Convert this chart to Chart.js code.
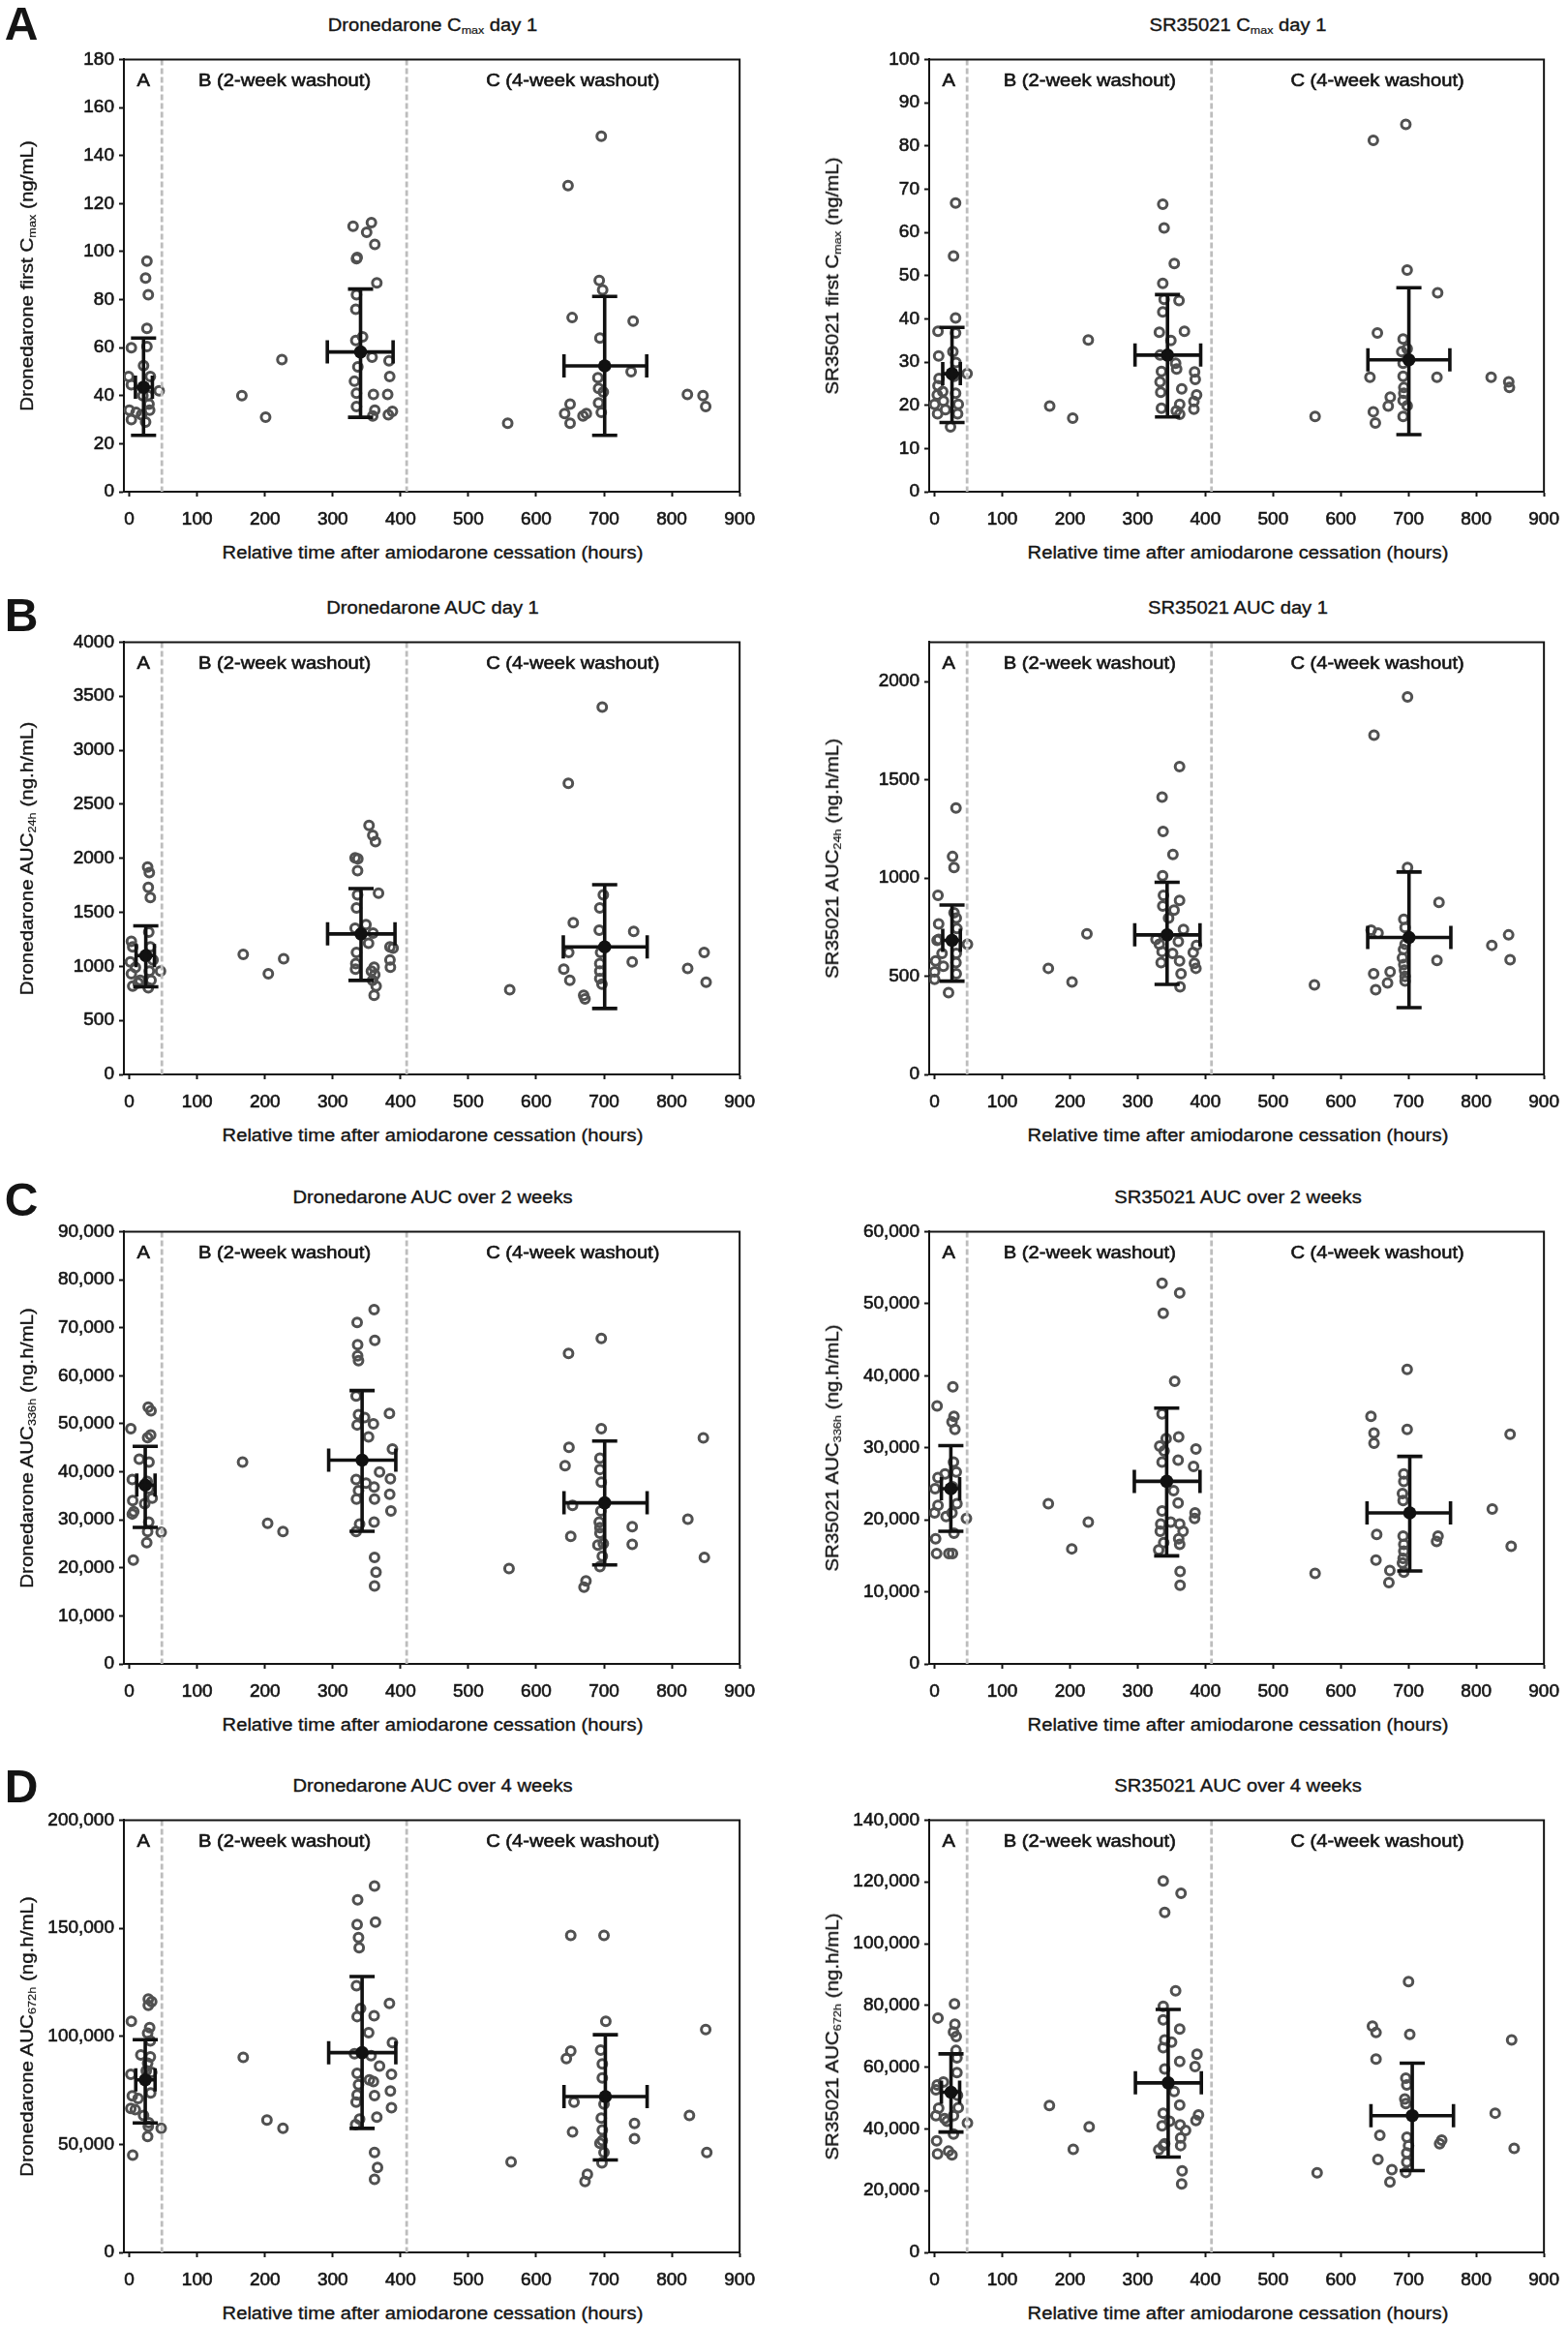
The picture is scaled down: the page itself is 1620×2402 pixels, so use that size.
<!DOCTYPE html>
<html>
<head>
<meta charset="utf-8">
<script src="https://cdn.jsdelivr.net/npm/chart.js@4.4.1/dist/chart.umd.min.js"></script>
<style>
html,body{margin:0;padding:0;background:#fff;}
#page{position:relative;width:1620px;height:2402px;overflow:hidden;background:#fff;font-family:"Liberation Sans",Arial,Helvetica,sans-serif;color:#141414;}
.t{position:absolute;white-space:nowrap;line-height:1;font-size:18px;transform:translate(-50%,-50%) scaleX(1.12);-webkit-text-stroke:0.35px #141414;}
.yt{position:absolute;white-space:nowrap;line-height:1;font-size:18px;transform:translate(-50%,-50%) rotate(-90deg) scaleX(1.14);-webkit-text-stroke:0.35px #141414;}
.letter{position:absolute;font-weight:bold;font-size:48px;line-height:1;transform:translate(-50%,-50%);}
sub{font-size:0.62em;vertical-align:-0.28em;line-height:0;-webkit-text-stroke:0.2px #141414;}
.cw{position:absolute;}
.cw canvas{display:block;}
</style>
</head>
<body>
<div id="page"></div>
<script>
// ---------------- DATA ----------------
const xTicks = [0,100,200,300,400,500,600,700,800,900];
const boundaries = [48, 409];
const regionLabels = ['A', 'B (2-week washout)', 'C (4-week washout)'];
const regionCenters = [21, 229, 654];

const yTicksCmaxDron = [0,20,40,60,80,100,120,140,160,180];
const yTicksCmaxSR = [0,10,20,30,40,50,60,70,80,90,100];
const yTicksAucD1Dron = [0,500,1000,1500,2000,2500,3000,3500,4000];
const yTicksAucD1SR = [0,500,1000,1500,2000];
const yTicksAuc2wDron = [0,10000,20000,30000,40000,50000,60000,70000,80000,90000];
const yTicksAuc2wSR = [0,10000,20000,30000,40000,50000,60000];
const yTicksAuc4wDron = [0,50000,100000,150000,200000];
const yTicksAuc4wSR = [0,20000,40000,60000,80000,100000,120000,140000];

// individual subjects: [hours, value]
const cmaxDron = [
 [26,96],[24,89],[28,82],[26,68],[3,60],[26,60.5],[21,52.5],[-1,48],[3,44.5],[31,48],[44,42],[29,36.5],[0,34],[10,33],[30,34],[3,30],[18,32],[24,29],[20,40],[28,40],
 [166,40],[201,31],[225,55],
 [330,110.5],[357,112],[350,108],[362,103],[335,97],[336,97.5],[365,87],[335,82],[334,76],[334,63],[344,64.5],[358,56],[383,54.5],[337,52],[384,48],[332,46],[335,41],[360,40.5],[381,40.5],[335,35.5],[362,34],[359,31.5],[388,33.5],[382,32],
 [558,28.5],[647,127.5],[696,148],[693,88],[698,84],[653,72.5],[743,71],[694,64],[740,50],[691,47.5],[692,43],[699,41.5],[650,36.5],[692,37],[642,32.5],[650,28.5],[669,31.5],[674,32.5],[696,33],
 [823,40.5],[846,40],[850,35.5]
];
const cmaxSR = [
 [31,66.8],[28,54.5],[31,40.2],[5,37.1],[31,36.7],[27,32.4],[6,31.4],[31.5,29.9],[48,27.3],[6.6,26.2],[29,26.7],[5,24.5],[31,22.8],[4,22.4],[12,23.2],[0,20.2],[13,21],[35,20.2],[4.4,18],[34,18],[23.5,15],[16,19],
 [170,19.8],[204,17],[227,35.1],
 [337,66.5],[339,61],[354,52.8],[337,48.2],[361,44.2],[339,44.5],[337,41.6],[332,36.9],[369,37.1],[349,35],[333,31.6],[356,29.7],[335,27.8],[357.5,28.4],[333,25.4],[384,27.7],[385,26],[365,23.8],[334,23],[387,22.4],[362,20.2],[383,20.9],[335,19.3],[357,18.7],[362,17.9],[383,19.1],
 [562,17.4],[648,81.3],[696,85],[698,51.3],[743,46],[654,36.7],[692,35.3],[690,32.4],[698,33.1],[692,29.7],[643,26.5],[742,26.5],[692,26.7],[693,24.1],[693,22.8],[673,21.9],[692,21.1],[670,19.8],[698,19.9],[648,18.5],[651,15.9],[692,17.4],
 [822,26.5],[848,25.4],[849,24.1]
];
const aucD1Dron = [
 [27,1919],[29.5,1868],[28,1730],[31,1637],[28.7,1317],[3,1231],[5,1180],[31,1180],[24,1094],[35,1059],[1.5,1042],[9,990],[29.5,956],[46,956],[3,932],[16,870],[32,870],[5,818],[28,801],[13,846],
 [168,1111],[205,932],[227.6,1070],
 [353.5,2304],[359,2212],[363,2153],[333,2005],[337,1995],[336.6,1885],[367.5,1678],[336.6,1661],[335,1541],[349,1386],[333,1352],[359.4,1307],[352.8,1214],[335,1128],[384.4,1180],[389,1169],[384.4,1059],[334,1025],[361,991],[333.6,973],[385,991],[357,956],[362,922],[358.7,870],[364,818],[361,733],
 [561,784],[647.4,2693],[697.4,3398],[699,1661],[693.8,1541],[654.7,1403],[743.8,1324],[693,1334],[648,1128],[695,1128],[741.6,1042],[693.8,1025],[640.7,973],[693.8,956],[649.6,870],[693.8,887],[697,836],[670,733],[672,698],
 [823.4,980],[847.7,1128],[850.6,853]
];
const aucD1SR = [
 [31.6,1356],[26.5,1109],[28.7,1053],[5,911],[28.7,823],[32,795],[6,766],[6,687],[33,742],[48.5,663],[11,616],[32,616],[1.5,578],[31.6,569],[13,550],[0,522],[32,512],[0,484],[20.6,416],[3.7,682],
 [168,540],[203,471],[225,716],
 [361.8,1567],[336,1411],[337.5,1237],[352,1119],[336.8,1011],[338,911],[361.8,885],[353.7,836],[337,857],[345.6,795],[367.6,738],[327,687],[332,663],[360,676],[386.8,657],[336,625],[382,621],[351.5,616],[334.6,569],[361.8,578],[383.8,565],[386,540],[364,512],[362.5,446],
 [561,456],[649,1727],[698.5,1921],[698.5,1053],[745,876],[693,789],[644.8,734],[655,719],[694.9,748],[694.9,663],[692.6,635],[691,593],[742,580],[693,559],[694,531],[672.8,522],[648.5,512],[694.9,499],[669,465],[694.9,475],[651.5,431],
 [823,657],[847.8,710],[850,584]
];
const auc2wDron = [
 [27.9,53460],[32,52690],[2.2,48980],[31.5,47660],[27,47120],[14.7,42640],[29,42020],[4.4,38390],[26.4,38010],[28.6,36460],[33.7,34530],[5,33990],[22.7,33370],[6.6,31670],[28.6,29510],[27,27580],[47,27420],[25.7,25260],[5.9,21630],[4.4,31210],
 [167,42020],[204,29280],[226.6,27580],
 [361,73770],[336,71070],[362,67360],[336.7,66440],[336.7,64120],[338,63110],[334.5,55770],[383.6,52140],[338,51910],[347,51290],[336,49750],[360,49980],[352.8,47280],[388,44730],[369,39940],[334.5,38390],[385,38550],[349,37620],[361,36850],[338,36080],[384,35300],[335,34300],[361.6,34300],[385.8,31830],[339.6,29120],[361,29510],[334.5,27580],[361.6,22170],[363.8,19080],[361.6,16220],
 [560,19850],[647.7,64660],[696,67750],[696,48980],[648.4,45110],[642.6,41250],[694,42800],[694,40480],[696,37850],[653.6,32990],[695.4,31830],[693,29510],[741.6,28580],[694,28350],[651,26570],[694,27190],[741.6,24880],[691,24720],[699,25030],[697.5,22400],[694,20240],[673.4,17300],[670.5,15990],
 [823.7,30130],[846.5,47050],[848,22170]
];
const auc2wSR = [
 [27,38470],[3.7,35790],[28.6,34350],[25.7,33580],[30,32550],[5,25850],[27.9,28020],[32,26630],[15.4,26370],[0.7,24310],[26.4,24570],[33,22250],[5,21990],[0,20960],[25.7,20960],[17,20450],[47,20190],[28.6,18130],[1.5,17360],[3,15300],[21,15300],[26.4,15300],
 [168,22250],[202.6,15970],[227,19670],
 [336,52840],[362,51500],[337.7,48670],[354.6,39240],[336,34710],[342,31260],[360.5,31520],[332.5,30230],[386,29820],[339,29560],[336,28020],[359.7,28270],[382.5,27400],[353,24050],[359.7,22350],[336,21220],[384.7,20960],[384,20190],[334,19420],[348.7,19670],[362,19420],[333.3,18390],[367,18390],[360.5,17360],[338.4,16840],[362,16580],[331,15810],[362.6,12820],[362.6,10920],
 [562,12570],[698,40890],[644.5,34350],[649,32030],[649,30640],[698,32550],[693,26370],[693,25340],[691,23640],[692,22660],[653,17970],[692,17720],[743.6,17720],[741.4,17000],[693,16580],[693,15660],[692,14630],[651.9,14420],[691,14010],[672.4,12980],[693,12720],[671,11280],
 [823.7,21480],[850,31880],[851.6,16330]
];
const auc4wDron = [
 [28,117200],[33,116000],[28,114300],[3,106900],[30,104000],[27,101400],[31,97900],[17,91400],[31,90500],[27,87600],[2.2,82400],[33,83300],[25,84100],[4.4,72400],[31.5,73800],[13,71200],[8.8,66000],[2.2,66600],[28.6,60000],[28,58300],[47,57400],[27,53600],[5,45000],[21,63400],
 [168,90200],[203,61200],[226.6,57400],
 [361.6,169500],[336.7,163100],[363,152800],[336,151700],[338,145700],[339,141000],[335,123400],[383.6,115200],[341,112900],[336,109100],[361,109500],[353,101700],[388,97100],[332,91900],[356.5,91000],[369,86200],[336,82800],[386.6,82400],[354,79800],[360,79000],[338,77600],[385,74700],[336,72900],[361.6,72600],[334.5,69500],[386.6,66900],[365,62600],[339.6,61700],[333.7,59100],[361.6,46200],[366,39300],[361.6,33800],
 [563,41900],[651,146700],[700,146700],[702.7,106900],[651,93100],[644.5,89700],[695,93600],[697.5,87200],[697.5,80700],[700,68600],[655.8,69500],[696,62100],[745,59700],[697.5,56600],[653.6,55700],[745,52600],[697.5,51700],[694,50500],[700,46200],[697,41400],[675.5,36200],[672,32800],
 [826,63400],[850,103100],[851.6,46200]
];
const auc4wSR = [
 [29.4,80500],[5,75900],[30,73900],[27.9,71400],[32,69900],[31.6,65400],[33,63000],[33,58200],[2,52700],[13,55200],[4,54200],[33.8,50900],[35,46900],[6,46700],[2,44300],[27.9,44300],[14.7,43300],[48.5,41900],[18.4,42500],[27.9,38300],[3,36100],[4.4,31900],[25.7,31600],[20.6,32800],
 [169.6,47600],[204.8,33400],[228.3,40700],
 [337.7,120300],[364,116300],[339.9,110100],[356,84700],[337.7,79700],[337.7,75300],[362,72300],[339.9,68800],[350,68100],[387.6,64200],[337.7,66300],[362,61800],[384.7,60200],[339.9,59400],[353.8,52100],[362,47700],[337.7,45100],[389.8,44500],[386,42700],[347,42500],[336,41000],[362.6,41300],[370.7,39500],[363.4,37100],[339.9,35200],[363.4,34600],[331,33200],[365.6,26400],[364.9,22200],[337.7,34600],
 [565,25800],[700,87700],[646.7,73300],[652,71200],[701.8,70600],[652,62600],[696,56400],[697.4,54200],[694.5,49700],[696,48200],[657.6,37900],[697.7,37300],[749,36400],[745.9,35200],[700,34600],[697.4,32200],[654.8,30100],[697.4,29200],[675.4,26800],[696,25900],[672.5,22800],
 [828,45100],[852.3,68800],[856,33700]
];

// group summaries: [meanHours, meanValue, hoursLow, hoursHigh, valueLow, valueHigh]
const cmaxDronMean = [[21,43.5,9,34,23.5,64],[341,58.2,292,389,31,84.4],[701,52.4,641,763,23.5,81.3]];
const cmaxSRMean = [[25.7,27.3,12,38,16,38],[344,31.6,296,393,17.3,45.6],[700.5,30.5,640,761,13.2,47.2]];
const aucD1DronMean = [[24.3,1100,10,37,810,1375],[341.7,1300,292.4,391.8,870,1720],[701,1180,640,763.7,610,1755]];
const aucD1SRMean = [[25.7,682,12,38,475,862],[343.4,710,295.6,392,458,978],[700.7,697,639.7,762.5,340,1030]];
const auc2wDronMean = [[23.5,37230,11,38,28400,45300],[343.3,42410,294,393,27600,56900],[701,33530,641,763.6,20600,46400]];
const auc2wSRMean = [[24,24310,10,37,18400,30300],[342.8,25340,295,392,15000,35500],[701.8,20960,638.7,762,12900,28800]];
const auc4wDronMean = [[23.5,79800,9.5,38,59900,98400],[343.3,92400,294,393,57400,127600],[702,72100,641,763.6,42800,100700]];
const auc4wSRMean = [[24.2,51900,10,37,39000,64300],[345,54900,296.6,394,30900,78700],[705.5,44300,644.5,766.4,26500,61300]];

const titles = [
 'Dronedarone C<sub>max</sub> day 1','SR35021 C<sub>max</sub> day 1',
 'Dronedarone AUC day 1','SR35021 AUC day 1',
 'Dronedarone AUC over 2 weeks','SR35021 AUC over 2 weeks',
 'Dronedarone AUC over 4 weeks','SR35021 AUC over 4 weeks'
];
const yTitles = [
 'Dronedarone first C<sub>max</sub>&nbsp;(ng/mL)','SR35021 first C<sub>max</sub>&nbsp;(ng/mL)',
 'Dronedarone AUC<sub>24h</sub>&nbsp;(ng.h/mL)','SR35021 AUC<sub>24h</sub>&nbsp;(ng.h/mL)',
 'Dronedarone AUC<sub>336h</sub>&nbsp;(ng.h/mL)','SR35021 AUC<sub>336h</sub>&nbsp;(ng.h/mL)',
 'Dronedarone AUC<sub>672h</sub>&nbsp;(ng.h/mL)','SR35021 AUC<sub>672h</sub>&nbsp;(ng.h/mL)'
];
const xTitle = 'Relative time after amiodarone cessation (hours)';
const panelLetters = ['A','B','C','D'];

// ---------------- LAYOUT ----------------
const FONT = '"Liberation Sans", Arial, Helvetica, sans-serif';
const INK = '#141414';
const rowTops = [61, 663, 1272, 1880];
const plotH = 447;
const colLeft = [128, 960], colRight = [766, 1597];
const PADT = 16, PADR = 26, YW = 90, XH = 45;
const letterPos = [[22,24.5],[22,635.5],[22,1239.5],[22,1845.5]];

const panels = [
 {pts:cmaxDron, means:cmaxDronMean, yt:yTicksCmaxDron, ymax:180},
 {pts:cmaxSR, means:cmaxSRMean, yt:yTicksCmaxSR, ymax:100},
 {pts:aucD1Dron, means:aucD1DronMean, yt:yTicksAucD1Dron, ymax:4000},
 {pts:aucD1SR, means:aucD1SRMean, yt:yTicksAucD1SR, ymax:2200},
 {pts:auc2wDron, means:auc2wDronMean, yt:yTicksAuc2wDron, ymax:90000},
 {pts:auc2wSR, means:auc2wSRMean, yt:yTicksAuc2wSR, ymax:60000},
 {pts:auc4wDron, means:auc4wDronMean, yt:yTicksAuc4wDron, ymax:200000},
 {pts:auc4wSR, means:auc4wSRMean, yt:yTicksAuc4wSR, ymax:140000}
];

const page = document.getElementById('page');
const fmt = v => (Math.abs(v) >= 10000 ? v.toLocaleString('en-US') : String(v));

function addText(cls, html, x, y) {
  const d = document.createElement('div');
  d.className = cls; d.innerHTML = html;
  d.style.left = x + 'px'; d.style.top = y + 'px';
  page.appendChild(d);
}

function overlay(p) {
  return {
    id: 'overlay',
    afterDatasetsDraw(chart) {
      const ctx = chart.ctx, a = chart.chartArea, xs = chart.scales.x, ys = chart.scales.y;
      ctx.save();
      // period boundaries
      ctx.strokeStyle = '#bdbdbd'; ctx.lineWidth = 2.8; ctx.setLineDash([6, 3]);
      boundaries.forEach(b => {
        const px = xs.getPixelForValue(b);
        ctx.beginPath(); ctx.moveTo(px, a.top); ctx.lineTo(px, a.bottom); ctx.stroke();
      });
      ctx.setLineDash([]);
      // error bars (SD of value, range of time)
      ctx.strokeStyle = '#111'; ctx.lineWidth = 3.6; ctx.lineCap = 'butt';
      p.means.forEach(m => {
        const px = xs.getPixelForValue(m[0]), py = ys.getPixelForValue(m[1]);
        const xl = xs.getPixelForValue(m[2]), xh = xs.getPixelForValue(m[3]);
        const yl = ys.getPixelForValue(m[4]), yh = ys.getPixelForValue(m[5]);
        ctx.beginPath();
        ctx.moveTo(px, yl); ctx.lineTo(px, yh);
        ctx.moveTo(px - 13, yl); ctx.lineTo(px + 13, yl);
        ctx.moveTo(px - 13, yh); ctx.lineTo(px + 13, yh);
        ctx.moveTo(xl, py); ctx.lineTo(xh, py);
        ctx.moveTo(xl, py - 12); ctx.lineTo(xl, py + 12);
        ctx.moveTo(xh, py - 12); ctx.lineTo(xh, py + 12);
        ctx.stroke();
      });
      // frame top / right
      ctx.strokeStyle = INK; ctx.lineWidth = 2;
      ctx.beginPath(); ctx.moveTo(a.left, a.top); ctx.lineTo(a.right, a.top); ctx.lineTo(a.right, a.bottom); ctx.stroke();
      // period labels
      ctx.fillStyle = INK; ctx.strokeStyle = INK; ctx.lineWidth = 0.6;
      ctx.font = '18px ' + FONT; ctx.textAlign = 'center'; ctx.textBaseline = 'middle';
      regionLabels.forEach((t, i) => {
        const px = xs.getPixelForValue(regionCenters[i]);
        ctx.save(); ctx.translate(px, a.top + 23); ctx.scale(1.12, 1);
        ctx.fillText(t, 0, 0); ctx.strokeText(t, 0, 0); ctx.restore();
      });
      ctx.restore();
    }
  };
}

panels.forEach((p, i) => {
  const col = i % 2, row = Math.floor(i / 2);
  const L = colLeft[col], R = colRight[col], T = rowTops[row];
  const w = R - L + YW + PADR, h = plotH + PADT + XH;
  const wrap = document.createElement('div');
  wrap.className = 'cw';
  wrap.style.left = (L - YW) + 'px'; wrap.style.top = (T - PADT) + 'px';
  wrap.style.width = w + 'px'; wrap.style.height = h + 'px';
  const cv = document.createElement('canvas');
  cv.width = w; cv.height = h; cv.style.width = w + 'px'; cv.style.height = h + 'px';
  wrap.appendChild(cv); page.appendChild(wrap);

  const tickFont = { family: FONT, size: 19 };
  new Chart(cv, {
    type: 'scatter',
    data: {
      datasets: [
        { data: p.means.map(m => ({x: m[0], y: m[1]})), pointRadius: 6.8, pointBackgroundColor: '#111', pointBorderWidth: 0 },
        { data: p.pts.map(d => ({x: d[0], y: d[1]})), pointRadius: 4.5, pointBorderWidth: 3,
          pointBorderColor: '#515151', pointBackgroundColor: 'rgba(255,255,255,0)' }
      ]
    },
    options: {
      responsive: false, animation: false, events: [], devicePixelRatio: 1,
      layout: { padding: { left: 0, top: PADT, right: PADR, bottom: 0 } },
      plugins: { legend: { display: false }, tooltip: { enabled: false }, title: { display: false } },
      scales: {
        x: {
          type: 'linear', position: 'bottom', min: -8, max: 900,
          afterBuildTicks: s => { s.ticks = xTicks.map(v => ({value: v})); },
          afterFit: s => { s.height = XH; },
          ticks: { color: INK, font: tickFont, padding: 12, maxRotation: 0, autoSkip: false,
                   textStrokeColor: INK, textStrokeWidth: 0.6, callback: v => fmt(v) },
          grid: { display: true, drawOnChartArea: false, drawTicks: true, tickLength: 5, tickWidth: 2, tickColor: INK },
          border: { display: true, color: INK, width: 2 }
        },
        y: {
          type: 'linear', position: 'left', min: 0, max: p.ymax,
          afterBuildTicks: s => { s.ticks = p.yt.map(v => ({value: v})); },
          afterFit: s => { s.width = YW; },
          ticks: { color: INK, font: tickFont, padding: 5, autoSkip: false,
                   textStrokeColor: INK, textStrokeWidth: 0.6, callback: v => fmt(v) },
          grid: { display: true, drawOnChartArea: false, drawTicks: true, tickLength: 5, tickWidth: 2, tickColor: INK },
          border: { display: true, color: INK, width: 2 }
        }
      }
    },
    plugins: [overlay(p)]
  });

  const cx = (L + R) / 2;
  addText('t', titles[i], cx, T - 35);
  addText('t', xTitle, cx, T + plotH + 63);
  addText('yt', yTitles[i], col === 0 ? 28 : 860, T + plotH / 2);
});

panelLetters.forEach((l, r) => addText('letter', l, letterPos[r][0], letterPos[r][1]));
</script>
</body>
</html>
